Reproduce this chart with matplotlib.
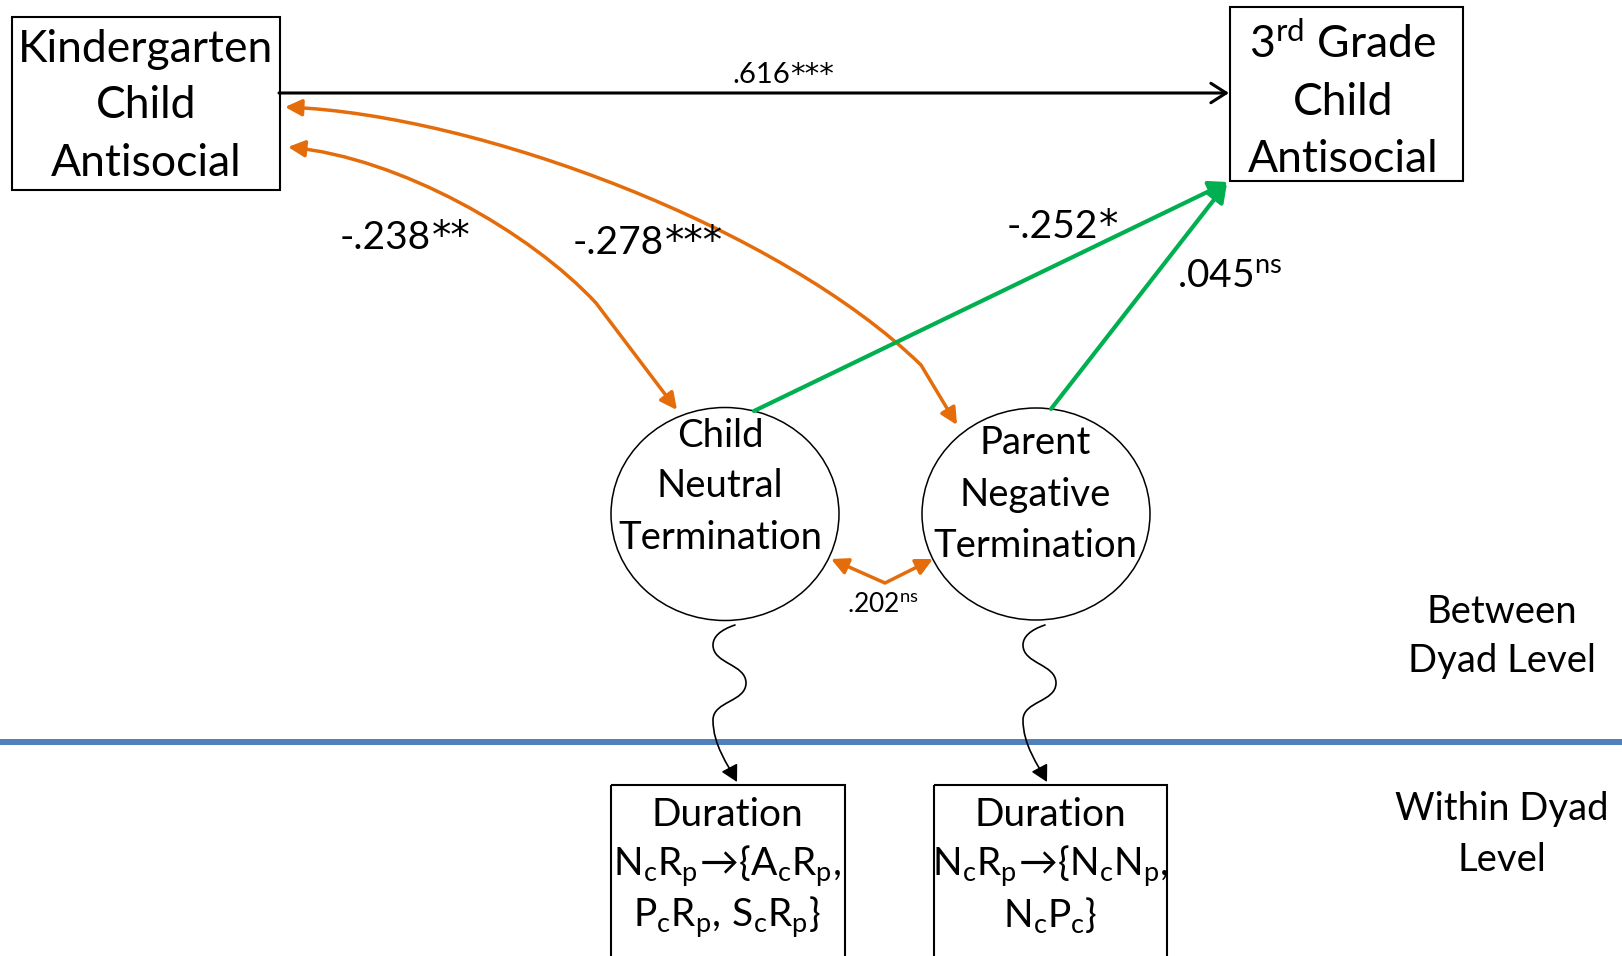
import matplotlib
matplotlib.use('Agg')
import matplotlib.pyplot as plt
from matplotlib.patches import Rectangle, Ellipse, FancyArrowPatch
from matplotlib.path import Path

plt.rcParams['font.family'] = ['Lato', 'DejaVu Sans']
plt.rcParams['mathtext.fontset'] = 'custom'
plt.rcParams['mathtext.rm'] = 'Lato'
plt.rcParams['mathtext.it'] = 'Lato:italic'
plt.rcParams['mathtext.bf'] = 'Lato:bold'
plt.rcParams['mathtext.default'] = 'regular'

# ---------------- content ----------------
kinder_lines = ['Kindergarten', 'Child', 'Antisocial']
grade3_lines = ['3$^{rd}$ Grade', 'Child', 'Antisocial']
child_lines = ['Child', 'Neutral', 'Termination']
parent_lines = ['Parent', 'Negative', 'Termination']
dur1_lines = ['Duration', r'$N_cR_p\!\rightarrow\!\{A_cR_p,$', r'$P_cR_p,\,S_cR_p\}$']
dur2_lines = ['Duration', r'$N_cR_p\!\rightarrow\!\{N_cN_p,$', r'$N_cP_c\}$']
level_between = ['Between', 'Dyad Level']
level_within = ['Within Dyad', 'Level']

# path coefficients: (value text, significance stars)
coef_616 = ('.616', '***')
coef_238 = ('-.238', '**')
coef_278 = ('-.278', '***')
coef_252 = ('-.252', '*')
coef_045 = ('.045$^{ns}$', '')
coef_202 = ('.202$^{ns}$', '')

ORANGE = '#E46C0A'
GREEN = '#00B050'
BLUE = '#4F81BD'

W, H = 1622, 956
fig = plt.figure(figsize=(W / 100, H / 100), dpi=100)
ax = fig.add_axes([0, 0, 1, 1])
ax.set_xlim(0, W)
ax.set_ylim(H, 0)
ax.axis('off')
renderer = fig.canvas.get_renderer()


def lines_text(x, baselines, lines, size, ha='center'):
    for yb, s in zip(baselines, lines):
        ax.text(x, yb, s, fontsize=size, ha=ha, va='baseline', color='black')


def coef_label(x, y, coef, size):
    num, stars = coef
    t = ax.text(x, y, num, fontsize=size, ha='left', va='baseline', zorder=6)
    if stars:
        bb = t.get_window_extent(renderer=renderer)
        x1 = ax.transData.inverted().transform((bb.x1, bb.y0))[0]
        ax.text(x1 + size * 0.03, y - size * 0.02, stars, fontsize=size * 1.0,
                family='DejaVu Sans', ha='left', va='baseline', zorder=6)


# ---------------- level separator ----------------
ax.plot([0, W], [742, 742], color=BLUE, lw=4.3, solid_capstyle='butt', zorder=1)

# ---------------- boxes ----------------
ax.add_patch(Rectangle((12, 17), 268, 173, fill=False, ec='black', lw=1.5, zorder=3))
lines_text(146, [62, 118, 176], kinder_lines, 32)

ax.add_patch(Rectangle((1230, 7), 233, 174, fill=False, ec='black', lw=1.5, zorder=3))
lines_text(1343, [58, 115, 172], grade3_lines, 32)

ax.add_patch(Rectangle((611, 785), 234, 200, fill=False, ec='black', lw=1.5, zorder=3))
lines_text(727, [826, 876, 927], dur1_lines, 28)

ax.add_patch(Rectangle((934, 785), 233, 200, fill=False, ec='black', lw=1.5, zorder=3))
lines_text(1050, [826, 876, 927], dur2_lines, 28)

# ---------------- latent circles ----------------
ax.add_patch(Ellipse((725, 514), 228, 213, fill=False, ec='black', lw=1.1, zorder=3))
lines_text(720, [447, 497, 549], child_lines, 27.5)

ax.add_patch(Ellipse((1036, 514), 228, 212, fill=False, ec='black', lw=1.1, zorder=3))
lines_text(1035, [454, 506, 557], parent_lines, 27.5)

# ---------------- right-hand level labels ----------------
lines_text(1502, [623, 672], level_between, 27.5)
lines_text(1502, [820, 871], level_within, 27.5)

# ---------------- arrows ----------------
# stability path (black, open head)
ax.add_patch(FancyArrowPatch((279, 93), (1229, 93), arrowstyle='->,head_length=0.55,head_width=0.35',
                             mutation_scale=20, lw=2.2, color='black', shrinkA=0, shrinkB=0, zorder=4))
coef_label(732, 83, coef_616, 21)

# orange correlations
p238 = Path([(288, 147), (400, 158), (530, 232), (596, 303), (677, 410)],
            [Path.MOVETO, Path.CURVE4, Path.CURVE4, Path.CURVE4, Path.LINETO])
ax.add_patch(FancyArrowPatch(path=p238, arrowstyle='<|-|>,head_length=0.5,head_width=0.25',
                             mutation_scale=20, lw=2.5, color=ORANGE, zorder=4))
coef_label(340, 249, coef_238, 28)

p278 = Path([(285, 107), (480, 115), (780, 228), (921, 365), (957, 425)],
            [Path.MOVETO, Path.CURVE4, Path.CURVE4, Path.CURVE4, Path.LINETO])
ax.add_patch(FancyArrowPatch(path=p278, arrowstyle='<|-|>,head_length=0.5,head_width=0.25',
                             mutation_scale=20, lw=2.5, color=ORANGE, zorder=4))
coef_label(573, 254, coef_278, 28)

p202 = Path([(831, 559), (885, 583), (933, 559)], [Path.MOVETO, Path.LINETO, Path.LINETO])
ax.add_patch(FancyArrowPatch(path=p202, arrowstyle='<|-|>,head_length=0.5,head_width=0.25',
                             mutation_scale=20, lw=2.5, color=ORANGE, zorder=4))
coef_label(847, 612, coef_202, 19)

# green predictive paths
ax.add_patch(FancyArrowPatch((754, 411), (1228, 182), arrowstyle='-|>,head_length=0.55,head_width=0.3',
                             mutation_scale=20, lw=3.0, color=GREEN, shrinkA=0, shrinkB=0, zorder=4))
coef_label(1007, 238, coef_252, 28)

ax.add_patch(FancyArrowPatch((1051, 409), (1227, 183), arrowstyle='-|>,head_length=0.55,head_width=0.3',
                             mutation_scale=20, lw=3.0, color=GREEN, shrinkA=0, shrinkB=0, zorder=4))
coef_label(1177, 287, coef_045, 28)

# squiggly measurement arrows (relative shape, placed under each circle)
squiggle = [(0, 0), (-15, 5), (-22, 12), (-22, 20), (-22, 39), (11, 39), (11, 58),
            (11, 77), (-22, 76), (-22, 95), (-22, 120), (-7, 140), (2, 157)]
codes = [Path.MOVETO] + [Path.CURVE4] * 12
for x0 in (735, 1045):
    verts = [(x0 + dx, 625 + dy) for dx, dy in squiggle]
    ax.add_patch(FancyArrowPatch(path=Path(verts, codes), arrowstyle='-|>,head_length=0.55,head_width=0.3',
                                 mutation_scale=18, lw=1.2, color='black', zorder=5))

fig.savefig('out.png', dpi=100)
